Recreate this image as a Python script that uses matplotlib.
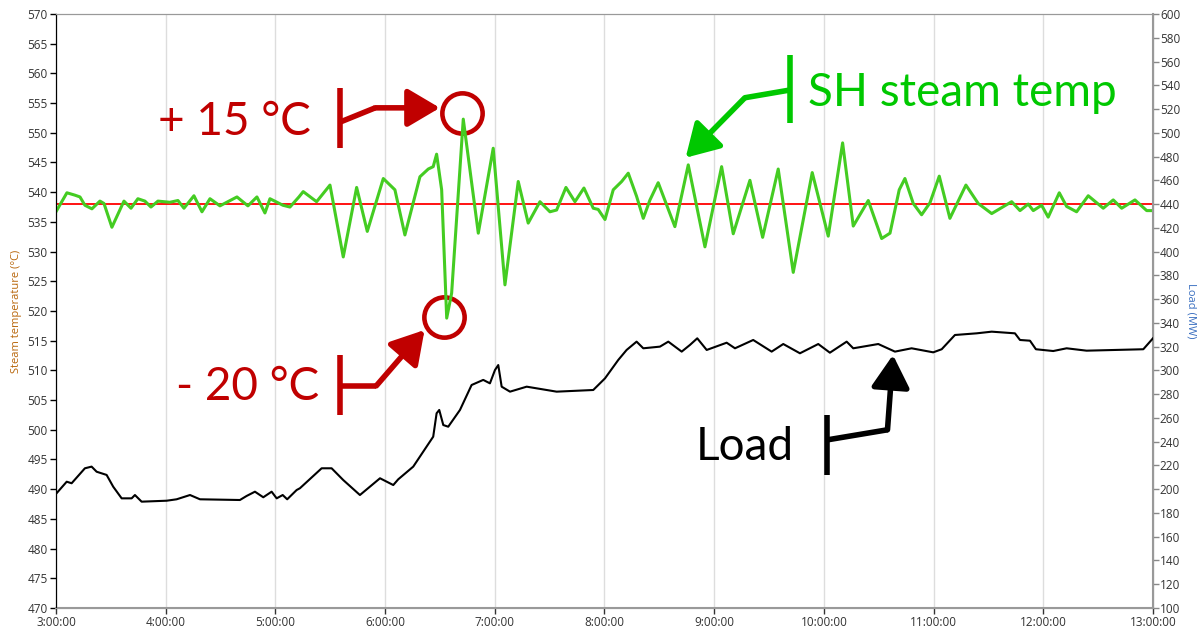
import matplotlib.pyplot as plt

# ============================================
# Data
# ============================================

# SH steam temperature (hours, °C)
temp_time = [3.000, 3.100, 3.173, 3.219, 3.264, 3.328, 3.401, 3.438, 3.510, 3.565,
             3.620, 3.684, 3.747, 3.811, 3.866, 3.930, 4.039, 4.112, 4.167, 4.258,
             4.331, 4.404, 4.495, 4.650, 4.750, 4.832, 4.905, 4.951, 5.069, 5.133,
             5.215, 5.254, 5.376, 5.498, 5.619, 5.741, 5.838, 5.984, 6.090, 6.181,
             6.318, 6.394, 6.439, 6.470, 6.516, 6.562, 6.607, 6.713, 6.850, 6.986,
             7.093, 7.214, 7.305, 7.412, 7.503, 7.564, 7.649, 7.731, 7.813, 7.898,
             7.943, 8.005, 8.080, 8.157, 8.217, 8.293, 8.354, 8.415, 8.490, 8.642,
             8.764, 8.916, 9.068, 9.174, 9.326, 9.442, 9.584, 9.721, 9.894, 10.040,
             10.171, 10.268, 10.405, 10.527, 10.603, 10.687, 10.739, 10.815, 10.891, 10.967,
             11.052, 11.149, 11.295, 11.407, 11.530, 11.712, 11.788, 11.863, 11.909, 11.985,
             12.045, 12.146, 12.213, 12.304, 12.410, 12.547, 12.638, 12.715, 12.836, 12.943,
             13.000]
temp_values = [536.7, 539.9, 539.5, 539.2, 537.8, 537.2, 538.5, 538.1, 534.1, 536.3,
               538.5, 537.3, 538.9, 538.5, 537.5, 538.5, 538.3, 538.6, 537.3, 539.4,
               536.7, 538.9, 537.7, 539.2, 537.7, 539.2, 536.5, 538.9, 537.8, 537.5,
               539.2, 540.1, 538.4, 541.2, 529.1, 540.8, 533.4, 542.3, 540.4, 532.8,
               542.6, 543.9, 544.3, 546.4, 540.4, 518.8, 523.0, 552.3, 533.1, 547.4,
               524.4, 541.8, 534.8, 538.4, 536.7, 537.0, 540.8, 538.4, 540.7, 537.3,
               537.1, 535.4, 540.4, 541.8, 543.2, 539.3, 535.6, 538.7, 541.6, 534.2,
               544.6, 530.8, 544.3, 533.0, 542.0, 532.4, 543.9, 526.5, 543.3, 532.6,
               548.3, 534.3, 538.6, 532.2, 533.1, 540.4, 542.3, 538.1, 536.2, 538.2,
               542.7, 535.6, 541.2, 538.1, 536.4, 538.4, 536.9, 538.0, 536.9, 537.8,
               535.8, 539.9, 537.6, 536.7, 539.4, 537.3, 538.7, 537.3, 538.7, 536.9,
               536.9]

# Load (hours, MW)
load_time = [3.000, 3.098, 3.143, 3.264, 3.325, 3.371, 3.462, 3.522, 3.599, 3.690,
             3.720, 3.781, 4.009, 4.100, 4.222, 4.313, 4.677, 4.738, 4.814, 4.890,
             4.966, 5.012, 5.067, 5.108, 5.194, 5.224, 5.422, 5.513, 5.619, 5.771,
             5.954, 6.075, 6.120, 6.257, 6.439, 6.470, 6.494, 6.531, 6.576, 6.683,
             6.789, 6.895, 6.956, 7.002, 7.032, 7.063, 7.139, 7.291, 7.473, 7.564,
             7.898, 8.005, 8.126, 8.202, 8.293, 8.354, 8.506, 8.582, 8.704, 8.779,
             8.846, 8.932, 9.114, 9.190, 9.356, 9.524, 9.630, 9.782, 9.949, 10.055,
             10.208, 10.268, 10.496, 10.648, 10.800, 10.997, 11.074, 11.195, 11.393, 11.530,
             11.742, 11.788, 11.879, 11.933, 12.091, 12.213, 12.395, 12.912, 13.000]
load_values = [196.0, 206.3, 205.0, 217.6, 219.0, 214.7, 212.0, 202.1, 192.3, 192.3,
               195.1, 189.5, 190.3, 191.5, 195.1, 191.5, 190.9, 194.3, 197.9, 193.2,
               197.9, 192.3, 195.1, 191.5, 199.3, 200.8, 217.6, 217.6, 207.7, 195.1,
               209.2, 203.5, 208.3, 219.0, 244.2, 263.9, 266.7, 254.0, 252.6, 266.7,
               287.7, 292.0, 289.1, 300.3, 304.5, 286.3, 282.1, 286.3, 283.5, 282.1,
               283.5, 293.3, 308.8, 317.2, 324.2, 318.6, 320.0, 324.2, 315.8, 321.4,
               327.0, 317.2, 323.3, 318.6, 325.6, 315.8, 322.2, 314.4, 322.2, 314.9,
               324.2, 318.6, 322.2, 315.8, 318.6, 315.2, 317.8, 329.8, 331.2, 332.6,
               331.2, 325.6, 325.0, 317.8, 316.3, 318.6, 316.6, 317.8, 327.0]

setpoint = 538
hour_ticks = list(range(3, 14))
hour_labels = [f"{h}:00:00" for h in hour_ticks]

RED = "#C00000"
GREEN_TXT = "#00C800"

# ============================================
# Figure
# ============================================
plt.rcParams["font.family"] = ["Open Sans", "DejaVu Sans"]
fig = plt.figure(figsize=(11.98, 6.33), dpi=100)
ax = fig.add_axes([0.0467, 0.0395, 0.9157, 0.9384])
ax2 = ax.twinx()

# vertical gridlines
for h in hour_ticks:
    ax.axvline(h, color="#DDDDDD", lw=1, zorder=0)

ax.axhline(setpoint, color="#FF0000", lw=1.3, zorder=2)
ax.plot(temp_time, temp_values, color="#44CC22", lw=2.2, zorder=3,
        solid_joinstyle="round")
ax2.plot(load_time, load_values, color="black", lw=1.5, zorder=3)

ax.set_xlim(3, 13)
ax.set_ylim(470, 570)
ax2.set_ylim(100, 600)
ax.set_xticks(hour_ticks)
ax.set_xticklabels(hour_labels)
ax.set_yticks(range(470, 571, 5))
ax2.set_yticks(range(100, 601, 20))

for a in (ax, ax2):
    a.tick_params(labelsize=8.5, colors="#333333", length=4, width=1, pad=2)
ax.tick_params(axis="y", color="black")
ax2.tick_params(axis="y", color="#888888", pad=1)
ax.spines["left"].set_color("black")
ax2.spines["right"].set_color("#999999")
ax2.spines["right"].set_linewidth(1.5)
for s in ("top", "bottom"):
    ax.spines[s].set_color("#999999")
    ax2.spines[s].set_color("#999999")
ax.spines["bottom"].set_linewidth(1.5)

ax.set_ylabel("Steam temperature (°C)", color="#B8660B", fontsize=8, labelpad=4)
ax2.set_ylabel("Load (MW)", color="#3A6FC0", fontsize=8, rotation=270, labelpad=12)

# ============================================
# Annotations
# ============================================
def callout(ax, text, tx, ty, bar_x, bar_y0, bar_y1, path, color, ha="center"):
    ax.text(tx, ty, text, color=color, fontsize=33, ha=ha, va="center",
            family=["Lato", "DejaVu Sans"])
    ax.plot([bar_x, bar_x], [bar_y0, bar_y1], color=color, lw=4, solid_capstyle="butt")
    xs = [p[0] for p in path[:-1]]
    ys = [p[1] for p in path[:-1]]
    ax.plot(xs, ys, color=color, lw=4, solid_capstyle="butt", solid_joinstyle="miter")
    ax.annotate("", xy=path[-1], xytext=path[-2],
                arrowprops=dict(arrowstyle="-|>,head_length=1.1,head_width=0.65",
                                lw=4, color=color, mutation_scale=18,
                                shrinkA=0, shrinkB=0))

callout(ax, "+ 15 °C", 4.63, 551.8, 5.59, 557.5, 547.4,
        [(5.59, 551.8), (5.91, 554.2), (6.50, 554.2)], RED)
ax.plot([6.70], [553.3], marker="o", ms=29, mfc="none", mec=RED, mew=3.3)

callout(ax, "- 20 °C", 4.75, 507.2, 5.59, 512.6, 502.5,
        [(5.59, 507.4), (5.92, 507.4), (6.36, 516.8)], RED)
ax.plot([6.54], [519.0], marker="o", ms=29, mfc="none", mec=RED, mew=3.3)

callout(ax, "SH steam temp", 9.855, 556.7, 9.69, 563.1, 551.6,
        [(9.69, 557.2), (9.28, 555.9), (8.74, 545.8)], GREEN_TXT, ha="left")

callout(ax, "Load", 9.28, 497.1, 10.03, 502.5, 492.4,
        [(10.03, 498.3), (10.58, 500.0), (10.63, 512.6)], "black")

fig.savefig("out.png", dpi=100)
